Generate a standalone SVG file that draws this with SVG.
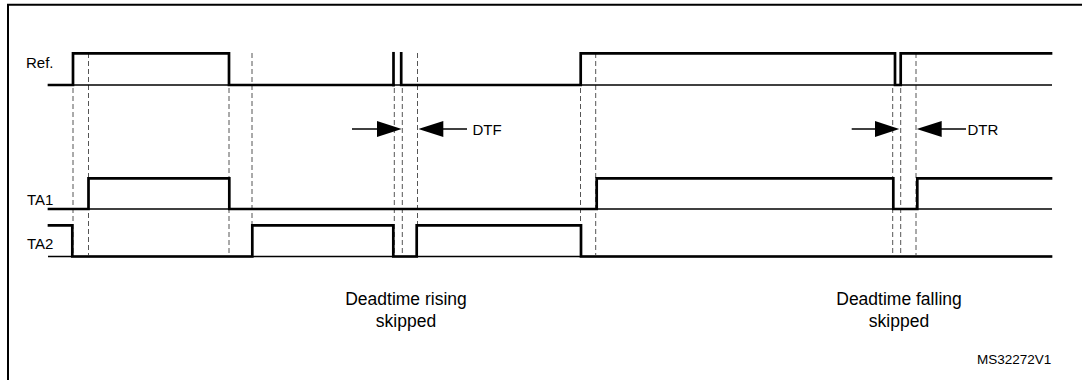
<svg xmlns="http://www.w3.org/2000/svg" width="1082" height="380" viewBox="0 0 1082 380">
<defs>
<style>
.sig{fill:none;stroke:#000;stroke-width:2.7;stroke-linejoin:miter;stroke-linecap:square}
.axis{fill:none;stroke:#000;stroke-width:1.7}
.dash{fill:none;stroke:#555;stroke-width:1;stroke-dasharray:5,3}
.frame{fill:none;stroke:#000;stroke-width:2}
.arr{fill:none;stroke:#000;stroke-width:1.5}
.head{fill:#000;stroke:none}
.lbl{font-family:"Liberation Sans",Arial,sans-serif;font-size:15px;fill:#000}
.note{font-family:"Liberation Sans",Arial,sans-serif;font-size:17.5px;fill:#000;text-anchor:middle}
.id{font-family:"Liberation Sans",Arial,sans-serif;font-size:13.5px;fill:#000}
</style>
</defs>
<rect width="1082" height="380" fill="#fff"/>
<path class="frame" d="M8,380 V4.7 H1082"/>

<g id="guides">
<line class="dash" x1="73" y1="88" x2="73" y2="255"/>
<line class="dash" x1="88.5" y1="53" x2="88.5" y2="255"/>
<line class="dash" x1="229" y1="88" x2="229" y2="255"/>
<line class="dash" x1="252" y1="53" x2="252" y2="255"/>
<line class="dash" x1="394.3" y1="88" x2="394.3" y2="255"/>
<line class="dash" x1="402.3" y1="88" x2="402.3" y2="255"/>
<line class="dash" x1="417.5" y1="53" x2="417.5" y2="255"/>
<line class="dash" x1="580.5" y1="88" x2="580.5" y2="255"/>
<line class="dash" x1="595.7" y1="53" x2="595.7" y2="255"/>
<line class="dash" x1="892.7" y1="88" x2="892.7" y2="255"/>
<line class="dash" x1="900.7" y1="88" x2="900.7" y2="255"/>
<line class="dash" x1="916" y1="53" x2="916" y2="255"/>
</g>

<g id="ref">
<text class="lbl" x="26" y="68">Ref.</text>
<line class="axis" x1="48" y1="85" x2="1052" y2="85"/>
<polyline class="sig" points="49,85 73,85 73,53.3 229,53.3 229,85 393.5,85"/>
<line class="sig" x1="393.5" y1="53.3" x2="393.5" y2="85"/>
<polyline class="sig" points="401.2,53.3 401.2,85 580.7,85 580.7,53.3 895,53.3 895,85 900.7,85 900.7,53.3 1051,53.3"/>
</g>

<g id="ta1">
<text class="lbl" x="27" y="205">TA1</text>
<line class="axis" x1="48" y1="209" x2="1052" y2="209"/>
<polyline class="sig" points="49,209 88.5,209 88.5,178.3 229.3,178.3 229.3,209 596.7,209 596.7,178.3 893.3,178.3 893.3,209 917.3,209 917.3,178.3 1051,178.3"/>
</g>

<g id="ta2">
<text class="lbl" x="27" y="249">TA2</text>
<line class="axis" x1="48" y1="256.5" x2="1052" y2="256.5"/>
<polyline class="sig" points="49,225.3 72.3,225.3 72.3,256.5 252.3,256.5 252.3,225.3 393.3,225.3 393.3,256.5 416.7,256.5 416.7,225.3 581,225.3 581,256.5 1051,256.5"/>
</g>

<g id="connectors">
<g id="dtf">
<line class="arr" x1="352" y1="129" x2="378" y2="129"/>
<polygon class="head" points="401.7,129 377,121 377,137"/>
<line class="arr" x1="442" y1="129" x2="467" y2="129"/>
<polygon class="head" points="418.3,129 443.3,121 443.3,137"/>
</g>
<g id="dtr">
<line class="arr" x1="851.7" y1="129" x2="876" y2="129"/>
<polygon class="head" points="899.3,129 875,121 875,137"/>
<line class="arr" x1="940" y1="129" x2="966" y2="129"/>
<polygon class="head" points="916.7,129 941.7,121 941.7,137"/>
</g>
</g>

<text class="lbl" x="472.5" y="134.5">DTF</text>
<text class="lbl" x="967.5" y="134.5">DTR</text>

<g id="note-rising">
<text class="note" x="406" y="305">Deadtime rising</text>
<text class="note" x="406" y="327">skipped</text>
</g>
<g id="note-falling">
<text class="note" x="899" y="305">Deadtime falling</text>
<text class="note" x="899" y="327">skipped</text>
</g>

<text class="id" x="977" y="364">MS32272V1</text>
</svg>
